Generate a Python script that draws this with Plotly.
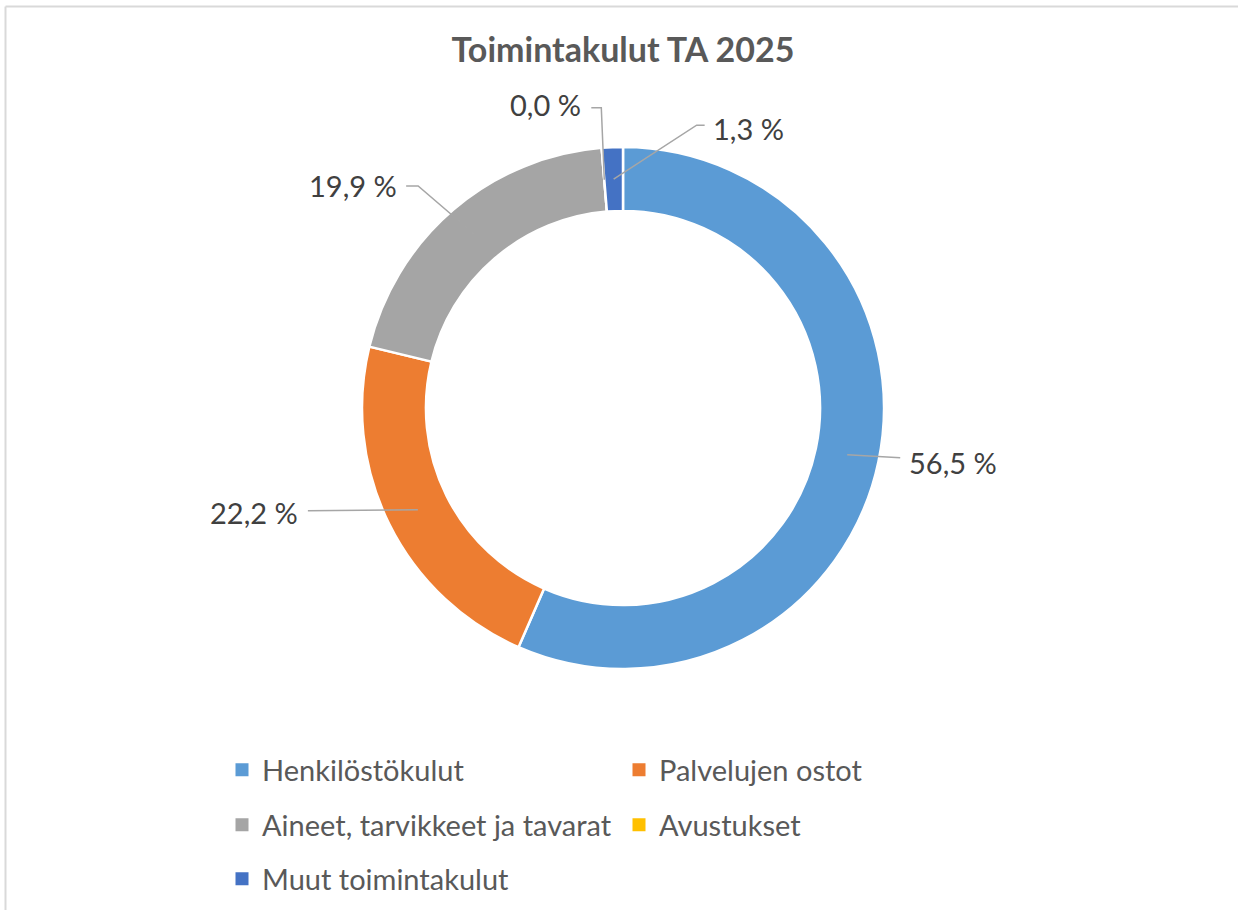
import math
import plotly.graph_objects as go

# ---- data ----
categories = ["Henkilöstökulut", "Palvelujen ostot", "Aineet, tarvikkeet ja tavarat",
              "Avustukset", "Muut toimintakulut"]
shares = [56.5, 22.2, 19.9, 0.0, 1.3]
colors = ["#5B9BD5", "#ED7D31", "#A5A5A5", "#FFC000", "#4472C4"]
title_text = "Toimintakulut TA 2025"

# ---- layout constants (pixels) ----
W, H = 1238, 910
CX, CY, R = 623, 408, 261
HOLE = 0.755
FONT = "Lato, Carlito, sans-serif"

def px(x):
    return x / W

def py(y):
    return 1 - y / H

fig = go.Figure()
fig.add_trace(go.Pie(
    labels=categories, values=shares, sort=False, direction="clockwise", rotation=0,
    hole=HOLE, textinfo="none", hoverinfo="label+percent",
    marker=dict(colors=colors, line=dict(color="white", width=2.5)),
    showlegend=False,
    domain=dict(x=[px(CX - R), px(CX + R)], y=[py(CY + R), py(CY - R)]),
))

# ---- data labels with leader lines, anchored at slice mid-angles ----
total = sum(shares)
r_mid = R * (1 + HOLE) / 2
# per-label style: leader elbow offsets and text offset (px, relative to anchor), anchor side
label_style = [
    dict(path=[(53, 3)], text=(60, 8), side="left"),
    dict(path=[(-110, 1)], text=(-118, 3), side="right"),
    dict(path=[(-56, -48), (-68, -48)], text=(-75, -48), side="right"),
    dict(path=[(-3, -72), (-13, -72)], text=(-21, -75), side="right"),
    dict(path=[(83, -54), (91, -54)], text=(97, -51), side="left"),
]
shapes = []
annotations = []
cum = 0.0
for v, st in zip(shares, label_style):
    mid = (cum + v / 2) / total * 2 * math.pi
    cum += v
    ax = CX + r_mid * math.sin(mid)
    ay = CY - r_mid * math.cos(mid)
    pts = [(ax, ay)] + [(ax + dx, ay + dy) for dx, dy in st["path"]]
    d = "M " + " L ".join(f"{px(x):.5f},{py(y):.5f}" for x, y in pts)
    shapes.append(dict(type="path", path=d, xref="paper", yref="paper",
                       line=dict(color="#A6A6A6", width=1.5)))
    tx, ty = ax + st["text"][0], ay + st["text"][1]
    annotations.append(dict(
        x=px(tx), y=py(ty), xref="paper", yref="paper", showarrow=False,
        text=f"{v:.1f}".replace(".", ",") + " %", xanchor=st["side"], yanchor="middle",
        font=dict(family=FONT, size=29, color="#404040"),
    ))

# ---- legend (3 rows, 2 columns) via proxy traces ----
legend_rows = ["legend", "legend", "legend2", "legend2", "legend3"]
for name, col, lg in zip(categories, colors, legend_rows):
    fig.add_trace(go.Scatter(
        x=[None], y=[None], mode="markers", name=name, legend=lg,
        marker=dict(symbol="square", size=13, color=col, line=dict(width=0)),
        hoverinfo="skip",
    ))

leg_common = dict(orientation="h", x=px(222), xanchor="left", yanchor="middle",
                  entrywidth=352, entrywidthmode="pixels", bgcolor="rgba(0,0,0,0)",
                  font=dict(family=FONT, size=29, color="#595959"),
                  itemclick=False, itemdoubleclick=False)
row_y = [770, 825, 879]

# ---- chart frame (only top and left edges are visible in the crop) ----
frame = dict(type="line", xref="paper", yref="paper", layer="below",
             line=dict(color="#D9D9D9", width=2))
shapes.append(dict(frame, x0=px(5.5), x1=1.0, y0=py(6.5), y1=py(6.5)))
shapes.append(dict(frame, x0=px(5.5), x1=px(5.5), y0=py(6.5), y1=0.0))

fig.update_layout(
    width=W, height=H, autosize=False,
    margin=dict(l=0, r=0, t=0, b=0),
    paper_bgcolor="white", plot_bgcolor="white",
    title=dict(text=f"<b>{title_text}</b>", x=px(CX), xanchor="center",
               y=py(50), yanchor="middle",
               font=dict(family=FONT, size=34, color="#595959")),
    xaxis=dict(visible=False), yaxis=dict(visible=False),
    legend=dict(leg_common, y=py(row_y[0])),
    legend2=dict(leg_common, y=py(row_y[1])),
    legend3=dict(leg_common, y=py(row_y[2])),
    shapes=shapes,
    annotations=annotations,
)

fig.write_html("out.html", config={"displayModeBar": False},
               post_script="document.body.style.margin='0';document.body.style.overflow='hidden';")
